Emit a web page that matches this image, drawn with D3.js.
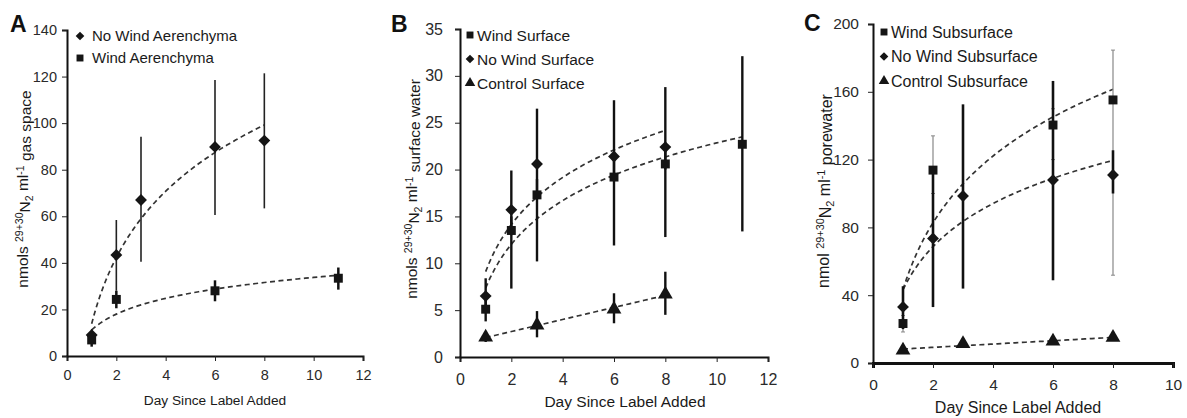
<!DOCTYPE html>
<html>
<head>
<meta charset="utf-8">
<script src="https://cdn.jsdelivr.net/npm/d3@7"></script>
<style>
  body { margin: 0; background: #fff; }
  svg { font-family: "Liberation Sans", Arial, sans-serif; }
</style>
</head>
<body>
<svg id="fig" width="1187" height="418"></svg>
<script>
// ---- panel A: aerenchyma gas space ----
const daysA1 = [1, 2, 3, 6, 8];
const noWindAer = [9, 43.4, 67, 89.8, 92.5];
const noWindAerLo = [6.5, 28, 40.5, 60.5, 63.4];
const noWindAerHi = [11.5, 58.4, 94.2, 118.5, 121.4];
const daysA2 = [1, 2, 6, 11];
const windAer = [6.9, 24.3, 28, 33.4];
const windAerLo = [4, 20.5, 23.5, 28.5];
const windAerHi = [10, 28, 32.5, 38];

// ---- panel B: surface water ----
const daysB1 = [1, 2, 3, 6, 8, 11];
const windSurf = [5.1, 13.5, 17.3, 19.2, 20.6, 22.7];
const windSurfLo = [3.8, 7.3, 10.2, 11.9, 12.8, 13.4];
const windSurfHi = [6.5, 15, 19, 21, 22, 32.1];
const daysB2 = [1, 2, 3, 6, 8];
const noWindSurf = [6.5, 15.7, 20.6, 21.4, 22.4];
const noWindSurfLo = [5, 13, 17, 19, 20];
const noWindSurfHi = [8.4, 19.9, 26.5, 27.4, 28.8];
const daysB3 = [1, 3, 6, 8];
const ctrlSurf = [2.1, 3.4, 5.1, 6.7];
const ctrlSurfLo = [1.6, 2.1, 3.6, 4.5];
const ctrlSurfHi = [2.6, 4.9, 6.8, 9.1];

// ---- panel C: porewater ----
const daysC1 = [1, 2, 6, 8];
const windSub = [23.3, 113.8, 140.4, 155.2];
const windSubLo = [18.3, 100, 120, 51.8];
const windSubHi = [28, 134, 150, 184.6];
const daysC2 = [1, 2, 3, 6, 8];
const noWindSub = [33.1, 73.5, 98.5, 107.9, 110.9];
const noWindSubLo = [20, 33, 43.9, 48.8, 100];
const noWindSubHi = [45.3, 113, 152.6, 166.4, 125.5];
const daysC3 = [1, 3, 6, 8];
const ctrlSub = [7.5, 11.4, 12.8, 15];
const ctrlSubLo = [5.5, 9.5, 11, 13];
const ctrlSubHi = [9.5, 13.5, 15, 17.5];

const xTicksAB = [0, 2, 4, 6, 8, 10, 12];
const xTicksC = [0, 2, 4, 6, 8, 10];
const yTicksA = [0, 20, 40, 60, 80, 100, 120, 140];
const yTicksB = [0, 5, 10, 15, 20, 25, 30, 35];
const yTicksC = [0, 40, 80, 120, 160, 200];

const xTitle = 'Day Since Label Added';

function zip(xs, ys, lo, hi) {
    return xs.map((x, i) => ({x: x, y: ys[i], lo: lo[i], hi: hi[i]}));
}

// least squares fit of y = a*ln(x)+b (or linear)
function fitLine(pts, useLog) {
    const f = useLog ? (v => Math.log(v)) : (v => v);
    const mx = d3.mean(pts, d => f(d.x));
    const my = d3.mean(pts, d => d.y);
    const sxy = d3.sum(pts, d => (f(d.x) - mx) * (d.y - my));
    const sxx = d3.sum(pts, d => (f(d.x) - mx) ** 2);
    const a = sxy / sxx, b = my - a * mx;
    const x0 = d3.min(pts, d => d.x), x1 = d3.max(pts, d => d.x);
    return d3.range(0, 61).map(i => {
        const x = x0 + (x1 - x0) * i / 60;
        return {x: x, y: a * f(x) + b};
    });
}

const shapeType = {
    diamond: d3.symbolDiamond2 || d3.symbolDiamond,
    square: d3.symbolSquare,
    triangle: d3.symbolTriangle
};
const shapeSize = {diamond: 90, square: 80, triangle: 95};

const svg = d3.select('#fig');

function drawPanel(cfg) {
    const x = d3.scaleLinear().domain(cfg.xdom).range(cfg.xr);
    const y = d3.scaleLinear().domain(cfg.ydom).range(cfg.yr);
    const g = svg.append('g');

    // axes
    const xa = g.append('g')
        .attr('transform', `translate(0,${cfg.yr[0]})`)
        .call(d3.axisBottom(x).tickValues(cfg.xticks).tickSize(5).tickSizeOuter(5).tickPadding(cfg.xpad));
    const ya = g.append('g')
        .attr('transform', `translate(${cfg.xr[0]},0)`)
        .call(d3.axisLeft(y).tickValues(cfg.yticks).tickSize(5).tickSizeOuter(5).tickPadding(cfg.ypad));
    [xa, ya].forEach(a => {
        a.selectAll('text').attr('fill', '#2a2a2a').style('font-size', cfg.tickFont + 'px')
            .style('font-family', '"Liberation Sans", Arial, sans-serif');
        a.selectAll('line').attr('stroke', '#222').attr('stroke-width', 1);
    });
    xa.select('.domain').attr('stroke', '#111').attr('stroke-width', cfg.xaxisW);
    ya.select('.domain').attr('stroke', '#111').attr('stroke-width', 2);

    // trend lines
    const line = d3.line().x(d => x(d.x)).y(d => y(d.y));
    cfg.series.forEach(s => {
        g.append('path')
            .attr('d', line(fitLine(s.pts, s.logFit)))
            .attr('fill', 'none')
            .attr('stroke', '#333')
            .attr('stroke-width', 1.7)
            .attr('stroke-dasharray', '5,3.5');
    });

    // error bars
    cfg.series.forEach(s => {
        const eb = g.append('g');
        eb.selectAll('line.bar')
            .data(s.pts)
            .join('line')
            .attr('class', 'bar')
            .attr('x1', d => x(d.x)).attr('x2', d => x(d.x))
            .attr('y1', d => y(d.lo)).attr('y2', d => y(d.hi))
            .attr('stroke', s.barColor)
            .attr('stroke-width', s.barW);
        if (s.caps) {
            eb.selectAll('line.cap')
                .data(s.pts.flatMap(d => [{x: d.x, v: d.lo}, {x: d.x, v: d.hi}]))
                .join('line')
                .attr('class', 'cap')
                .attr('x1', d => x(d.x) - 2).attr('x2', d => x(d.x) + 2)
                .attr('y1', d => y(d.v)).attr('y2', d => y(d.v))
                .attr('stroke', s.barColor)
                .attr('stroke-width', 1);
        }
    });

    // markers
    cfg.series.forEach(s => {
        g.selectAll(null)
            .data(s.pts)
            .join('path')
            .attr('d', d3.symbol().type(shapeType[s.shape]).size(shapeSize[s.shape]))
            .attr('transform', d => `translate(${x(d.x)},${y(d.y)})`)
            .attr('fill', '#151515');
    });

    // legend
    cfg.series.forEach((s, i) => {
        const ly = cfg.legend.y + i * cfg.legend.dy;
        g.append('path')
            .attr('d', d3.symbol().type(shapeType[s.shape]).size(48))
            .attr('transform', `translate(${cfg.legend.x},${ly})`)
            .attr('fill', '#151515');
        g.append('text')
            .attr('x', cfg.legend.x + cfg.legend.tx)
            .attr('y', ly)
            .attr('dy', '0.36em')
            .style('font-size', cfg.legend.font + 'px')
            .attr('fill', '#1a1a1a')
            .text(s.name);
    });

    // x title
    g.append('text')
        .attr('x', cfg.xtitle[0]).attr('y', cfg.xtitle[1])
        .attr('text-anchor', 'middle')
        .attr('dy', '0.36em')
        .style('font-size', cfg.xtitleFont + 'px')
        .attr('fill', '#1a1a1a')
        .text(xTitle);

    // y title with super/subscripts
    const yt = g.append('text')
        .attr('transform', `translate(${cfg.ytitle[0]},${cfg.ytitle[1]}) rotate(-90)`)
        .attr('text-anchor', 'middle')
        .attr('dy', '0.36em')
        .style('font-size', cfg.ytitleFont + 'px')
        .attr('fill', '#1a1a1a');
    const small = (cfg.ytitleFont * 0.68) + 'px';
    yt.append('tspan').text(cfg.yword + ' ');
    yt.append('tspan').attr('dy', '-0.45em').style('font-size', small).text('29+30');
    yt.append('tspan').attr('dy', '0.45em').text('N');
    yt.append('tspan').attr('dy', '0.3em').style('font-size', small).text('2');
    yt.append('tspan').attr('dy', '-0.3em').text(' ml');
    yt.append('tspan').attr('dy', '-0.45em').style('font-size', small).text('-1');
    yt.append('tspan').attr('dy', '0.45em').text(' ' + cfg.yrest);

    // panel letter
    g.append('text')
        .attr('x', cfg.letter[0]).attr('y', cfg.letter[1])
        .style('font-size', '23px').style('font-weight', 'bold')
        .attr('fill', '#111')
        .text(cfg.letterText);
}

drawPanel({
    letterText: 'A', letter: [10, 32],
    xdom: [0, 12], xr: [67, 363], ydom: [0, 140], yr: [356, 30],
    xticks: xTicksAB, yticks: yTicksA, tickFont: 14.5, xpad: 9, ypad: 5, xaxisW: 2,
    xtitle: [215, 400], xtitleFont: 13.7,
    ytitle: [22, 189], ytitleFont: 15.5, yword: 'nmols', yrest: 'gas space',
    legend: {x: 80, y: 36, dy: 22, tx: 12, font: 15},
    series: [
        {name: 'No Wind Aerenchyma', shape: 'diamond', pts: zip(daysA1, noWindAer, noWindAerLo, noWindAerHi),
         logFit: true, barColor: '#222', barW: 1.6, caps: false},
        {name: 'Wind Aerenchyma', shape: 'square', pts: zip(daysA2, windAer, windAerLo, windAerHi),
         logFit: true, barColor: '#111', barW: 2.5, caps: false}
    ]
});

drawPanel({
    letterText: 'B', letter: [391, 32],
    xdom: [0, 12], xr: [460, 768], ydom: [0, 35], yr: [357, 29],
    xticks: xTicksAB, yticks: yTicksB, tickFont: 16, xpad: 12, ypad: 12, xaxisW: 2,
    xtitle: [625, 401], xtitleFont: 15.5,
    ytitle: [411, 189], ytitleFont: 15.5, yword: 'nmols', yrest: 'surface water',
    legend: {x: 470, y: 35, dy: 24, tx: 7, font: 15.5},
    series: [
        {name: 'Wind Surface', shape: 'square', pts: zip(daysB1, windSurf, windSurfLo, windSurfHi),
         logFit: true, barColor: '#111', barW: 2.4, caps: false},
        {name: 'No Wind Surface', shape: 'diamond', pts: zip(daysB2, noWindSurf, noWindSurfLo, noWindSurfHi),
         logFit: true, barColor: '#111', barW: 2.4, caps: false},
        {name: 'Control Surface', shape: 'triangle', pts: zip(daysB3, ctrlSurf, ctrlSurfLo, ctrlSurfHi),
         logFit: false, barColor: '#111', barW: 2.4, caps: false}
    ]
});

drawPanel({
    letterText: 'C', letter: [804, 31],
    xdom: [0, 10], xr: [873, 1173], ydom: [0, 200], yr: [363, 24],
    xticks: xTicksC, yticks: yTicksC, tickFont: 15.5, xpad: 11, ypad: 9, xaxisW: 3,
    xtitle: [1018, 407], xtitleFont: 16,
    ytitle: [823, 191], ytitleFont: 16, yword: 'nmol', yrest: 'porewater',
    legend: {x: 884, y: 32, dy: 24.5, tx: 7, font: 16},
    series: [
        {name: 'Wind Subsurface', shape: 'square', pts: zip(daysC1, windSub, windSubLo, windSubHi),
         logFit: true, barColor: '#888', barW: 1.2, caps: true},
        {name: 'No Wind Subsurface', shape: 'diamond', pts: zip(daysC2, noWindSub, noWindSubLo, noWindSubHi),
         logFit: true, barColor: '#111', barW: 2.6, caps: false},
        {name: 'Control Subsurface', shape: 'triangle', pts: zip(daysC3, ctrlSub, ctrlSubLo, ctrlSubHi),
         logFit: false, barColor: '#111', barW: 2.4, caps: false}
    ]
});
</script>
</body>
</html>
